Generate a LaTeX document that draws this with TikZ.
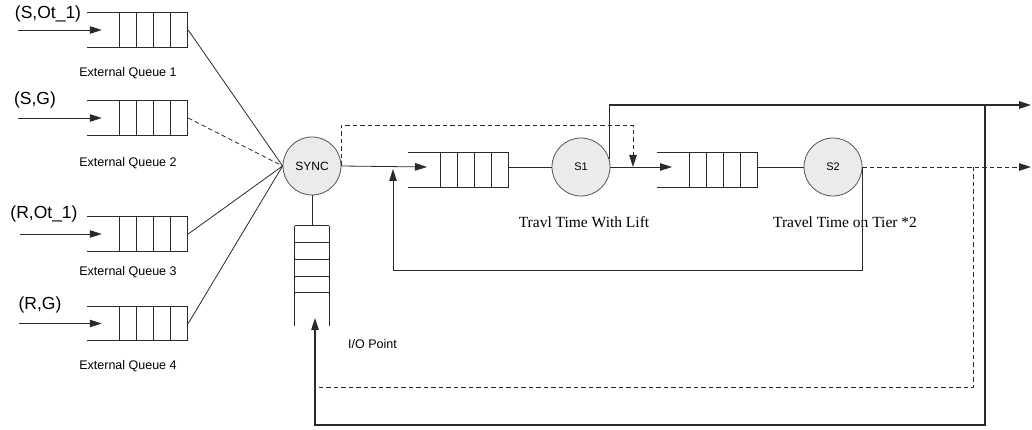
\documentclass[tikz,border=0pt]{standalone}
\usepackage{fontspec}
\setmainfont{Liberation Serif}
\setsansfont{Liberation Sans}
\usetikzlibrary{arrows.meta,calc}
\definecolor{linec}{HTML}{2A2A2A}
\definecolor{circc}{HTML}{555555}
\definecolor{circf}{HTML}{EBEBEB}
\tikzset{
  ln/.style={draw=linec, line width=0.8pt},
  arr/.style={ln, -{Triangle[length=12pt,width=7.5pt]}},
  dsh/.style={ln, dash pattern=on 4.5pt off 3pt},
  qbox/.style={minimum width=101pt, minimum height=34pt, inner sep=0pt, draw=none},
  vqbox/.style={minimum width=34pt, minimum height=100pt, inner sep=0pt, draw=none},
  srv/.style={circle, draw=circc, fill=circf, line width=0.8pt, minimum size=58pt, inner sep=0pt, font=\sffamily\fontsize{11}{13}\selectfont},
  qlabel/.style={font=\sffamily\fontsize{12.5}{14}\selectfont, inner sep=0pt},
  srclabel/.style={font=\sffamily\fontsize{17.5}{19}\selectfont, inner sep=0pt},
  tlabel/.style={font=\rmfamily\fontsize{15.5}{18}\selectfont, inner sep=0pt},
}
\newcommand{\hqueue}[1]{%
  \draw[ln] (#1.north west) -- (#1.north east) (#1.south west) -- (#1.south east);
  \foreach \o in {33,50,67,84,101} {\draw[ln] ($(#1.north west)+(\o,0)$) -- ($(#1.south west)+(\o,0)$);}%
}
\newcommand{\vqueue}[1]{%
  \draw[ln] (#1.north west) -- (#1.south west) (#1.north east) -- (#1.south east);
  \foreach \o in {0,17,34,51,67} {\draw[ln] ($(#1.north west)+(0,\o)$) -- ($(#1.north east)+(0,\o)$);}%
}
\begin{document}
\begin{tikzpicture}[x=1pt,y=-1pt]
\useasboundingbox (0,0) rectangle (1032,430);
% external queues
\node[qbox] (q1) at (137.5,30) {};
\node[qbox] (q2) at (137.5,118) {};
\node[qbox] (q3) at (137.5,234) {};
\node[qbox] (q4) at (137.5,323.5) {};
\hqueue{q1}\hqueue{q2}\hqueue{q3}\hqueue{q4}
\node[qlabel] (l1) at (128,73) {External Queue 1};
\node[qlabel] (l2) at (128,163) {External Queue 2};
\node[qlabel] (l3) at (128,272) {External Queue 3};
\node[qlabel] (l4) at (128,366) {External Queue 4};
\node[srclabel] (c1) at (48,14) {(S,Ot\_1)};
\node[srclabel] (c2) at (35,100) {(S,G)};
\node[srclabel] (c3) at (44,214) {(R,Ot\_1)};
\node[srclabel] (c4) at (40,305) {(R,G)};
\coordinate (in1) at (18,30);
\coordinate (in2) at (18,118);
\coordinate (in3) at (20,234);
\coordinate (in4) at (19,323.5);
\coordinate (t1) at ($(q1.west)+(15,0)$);
\coordinate (t2) at ($(q2.west)+(15,0)$);
\coordinate (t3) at ($(q3.west)+(15,0)$);
\coordinate (t4) at ($(q4.west)+(15,0)$);
\draw[arr] (in1) -- (t1);
\draw[arr] (in2) -- (t2);
\draw[arr] (in3) -- (t3);
\draw[arr] (in4) -- (t4);
% sync and I/O
\node[srv, font=\sffamily\fontsize{12}{14}\selectfont] (sync) at (312,166) {SYNC};
\node[vqbox] (io) at (312,276) {};
\vqueue{io}
\node[qlabel, anchor=west] (iol) at (348,344) {I/O Point};
\draw[ln] (q1.east) -- (sync.west);
\draw[dsh] (q2.east) -- (sync.west);
\draw[ln] (q3.east) -- (sync.west);
\draw[ln] (q4.east) -- (sync.west);
\draw[ln] (sync.south) -- (io.north);
% lift queue and S1
\node[qbox] (lq) at (458.5,170) {};
\hqueue{lq}
\node[srv] (s1) at (581,167) {S1};
\node[qbox] (sq) at (707.5,170) {};
\hqueue{sq}
\node[srv] (s2) at (833,167) {S2};
\node[tlabel] (tl1) at (584,222) {Travl Time With Lift};
\node[tlabel] (tl2) at (845,222) {Travel Time on Tier *2};
\coordinate (lqtip) at (427,167);
\coordinate (sqtip) at (672,167);
\coordinate (dtop) at (633,125);
\coordinate (lj) at (633,167);
\coordinate (out1) at (1031,105);
\coordinate (split1) at (985,105);
\coordinate (out2) at (1031,167);
\coordinate (split2) at (973,167);
\coordinate (bsol) at (315,425);
\coordinate (bdash) at (315,387);
\coordinate (iotip) at (315,318);
\coordinate (fb) at (393,270);
\coordinate (fbtip) at (393,169);
\draw[arr] (sync.east) -- (lqtip);
\draw[ln] (lq.east |- s1.west) -- (s1.west);
\draw[arr] (s1.east) -- (sqtip);
\draw[ln] (sq.east |- s2.west) -- (s2.west);
\draw[arr, dsh] (sync.east) |- (dtop) -- (lj);
\draw[arr, line width=1.1pt] (s1.15) |- (out1);
\draw[arr, dsh] (s2.east) -- (out2);
\draw[arr, line width=1.1pt] (split1) |- (bsol) -- (iotip);
\draw[dsh] (split2) |- (bdash);
\draw[arr] (s2.east) |- (fb) -- (fbtip);
\end{tikzpicture}
\end{document}
